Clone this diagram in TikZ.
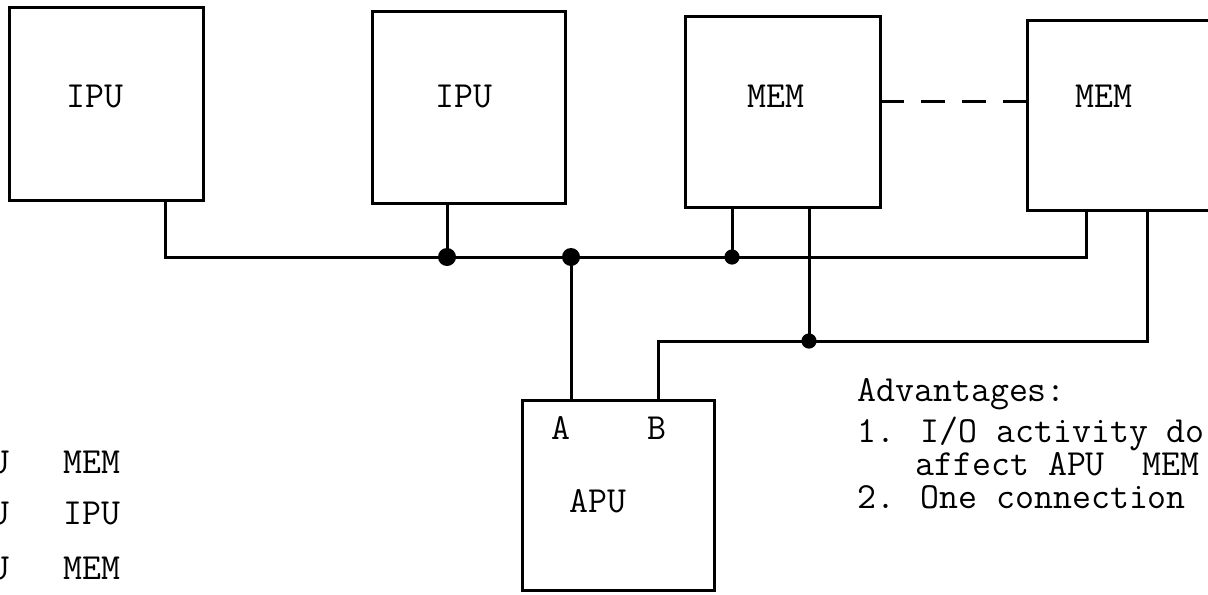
\documentclass[tikz,border=0pt]{standalone}
\usepackage{fontspec}
\begin{document}
\begin{tikzpicture}[x=0.5pt,y=-0.5pt,
  box/.style={draw,line width=1.5pt,inner sep=0pt,outer sep=0pt,rectangle},
  lbl/.style={font=\ttfamily\fontsize{18.4}{16.4}\selectfont,inner sep=0pt},
  wire/.style={line width=1.5pt},
  dotnode/.style={circle,fill,inner sep=0pt,minimum size=#1},
  dotnode/.default=8pt]
\clip (0,0) rectangle (1208,594);
% boxes
\node[box,minimum width=97pt,minimum height=96.5pt] (b1) at (106,103.5) {};
\node[box,minimum width=96.5pt,minimum height=96pt] (b2) at (468.5,107) {};
\node[box,minimum width=97.5pt,minimum height=95.5pt] (b3) at (782.5,111.5) {};
\node[box,minimum width=101.5pt,minimum height=95pt] (b4) at (1128.5,115) {};
\node[box,minimum width=96pt,minimum height=95pt] (apu) at (618,495) {};
% box labels
\node[lbl,anchor=base] (t1) at (95,107) {IPU};
\node[lbl,anchor=base] (t2) at (464,107) {IPU};
\node[lbl,anchor=base] (t3) at (776,107) {MEM};
\node[lbl,anchor=base] (t4) at (1104,107) {MEM};
\node[lbl,anchor=base] (ta) at (561,439) {A};
\node[lbl,anchor=base] (tb) at (657,439) {B};
\node[lbl,anchor=base] (tapu) at (598,512) {APU};
% bus coordinates
\coordinate (c0) at (165,257);
\coordinate (j1) at (447,257);
\coordinate (j2) at (571,257);
\coordinate (j3) at (732,257);
\coordinate (c1) at (1086,257);
\coordinate (c2) at (658,341);
\coordinate (j4) at (809,341);
\coordinate (c3) at (1147,341);
% main bus
\draw[wire] (b1.south -| c0) -- (c0) -- (c1) -- (b4.south -| c1);
\draw[wire] (b2.south -| j1) -- (j1);
\draw[wire] (b3.south -| j3) -- (j3);
\draw[wire] (j2) -- (apu.north -| j2);
% second bus
\draw[wire] (b3.south -| j4) -- (j4);
\draw[wire] (apu.north -| c2) -- (c2) -- (c3) -- (b4.south -| c3);
% dashed link
\draw[wire,dash pattern=on 12pt off 8.5pt] ([yshift=5.25pt]b3.east) -- ([yshift=5.25pt]b3.east -| b4.west);
% junction dots
\node[dotnode=9pt] (d1) at (j1) {};
\node[dotnode=9pt] (d2) at (j2) {};
\node[dotnode=7.6pt] (d3) at (j3) {};
\node[dotnode=7.6pt] (d4) at (j4) {};
% left list
\node[lbl,anchor=base east] (u1) at (10,473) {U};
\node[lbl,anchor=base west] (m1) at (63,473) {MEM};
\node[lbl,anchor=base east] (u2) at (10,524) {U};
\node[lbl,anchor=base west] (m2) at (63,524) {IPU};
\node[lbl,anchor=base east] (u3) at (10,579) {U};
\node[lbl,anchor=base west] (m3) at (63,579) {MEM};
% advantages
\node[lbl,anchor=base west] (adv) at (857,401) {Advantages:};
\node[lbl,anchor=base west] (adv1) at (857,442) {1. I/O activity do};
\node[lbl,anchor=base west] (adv1b) at (915,475) {affect APU\ \ MEM};
\node[lbl,anchor=base west] (adv2) at (857,508) {2. One connection};
\end{tikzpicture}
\end{document}
